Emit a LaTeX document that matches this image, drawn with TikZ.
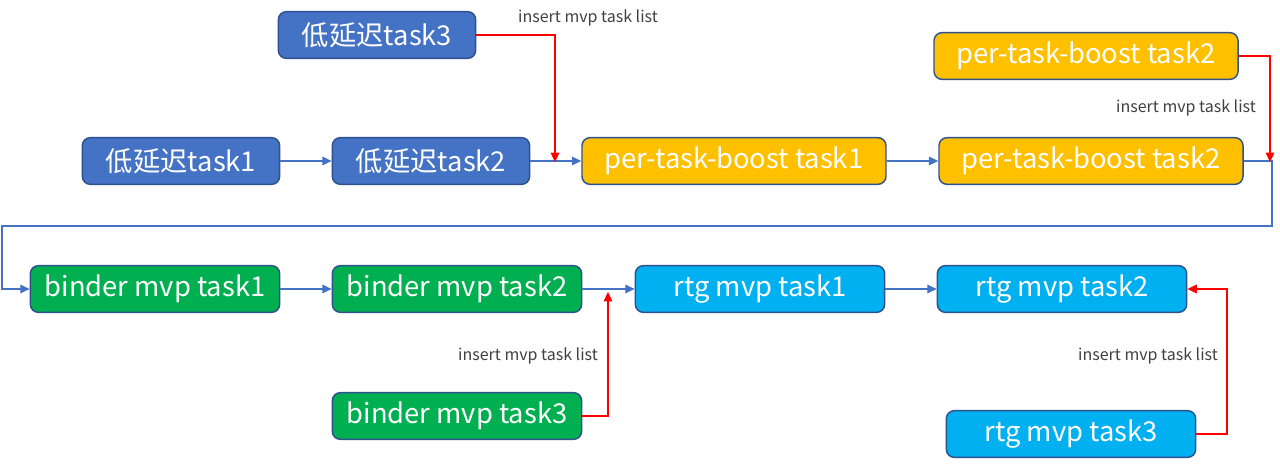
\documentclass[tikz,border=0pt]{standalone}
\usepackage{fontspec}
\setmainfont{Noto Sans CJK SC}
\usepackage{tikz}
\usetikzlibrary{arrows.meta,calc,positioning}
\definecolor{lowblue}{HTML}{4472C4}
\definecolor{boostyellow}{HTML}{FFC000}
\definecolor{bindergreen}{HTML}{00B050}
\definecolor{rtgblue}{HTML}{00B0F0}
\definecolor{myborder}{HTML}{2F528F}
\definecolor{labelgray}{HTML}{404040}
\tikzset{
    mybox/.style={draw=myborder,line width=1.1pt,rounded corners=6pt,text=white,
      minimum height=35pt,inner sep=0pt,font=\fontsize{20.5}{22}\selectfont},
    lowbox/.style={mybox,fill=lowblue,minimum width=148pt},
    boostbox/.style={mybox,fill=boostyellow,minimum width=228pt},
    binderbox/.style={mybox,fill=bindergreen,minimum width=187pt},
    rtgbox/.style={mybox,fill=rtgblue,minimum width=187pt},
    myflow/.style={draw=lowblue,line width=0.8pt,-{Triangle[length=7pt,width=6.5pt]}},
    myinsert/.style={draw=red,line width=0.8pt,-{Triangle[length=7pt,width=6.5pt]}},
    mylabel/.style={text=labelgray,font=\fontsize{12}{13}\selectfont}
}
\begin{document}
\begin{tikzpicture}[x=0.75pt,y=-0.75pt]
  \useasboundingbox (0,0) rectangle (1280,470);
  \node[lowbox] (low1) at (181,161) {低延迟task1};
  \node[lowbox] (low2) at (431,161) {低延迟task2};
  \node[lowbox] (low3) at (377,35) {低延迟task3};
  \node[boostbox] (boost1) at (734,161) {per-task-boost task1};
  \node[boostbox] (boost2) at (1091,161) {per-task-boost task2};
  \node[boostbox] (boost3) at (1086,56) {per-task-boost task2};
  \node[binderbox] (binder1) at (155,289) {binder mvp task1};
  \node[binderbox] (binder2) at (457,289) {binder mvp task2};
  \node[binderbox] (binder3) at (457,416) {binder mvp task3};
  \node[rtgbox] (rtg1) at (760,289) {rtg mvp task1};
  \node[rtgbox] (rtg2) at (1062,289) {rtg mvp task2};
  \node[rtgbox] (rtg3) at (1071,434) {rtg mvp task3};
  \coordinate (in1) at (555,162);
  \coordinate (in2) at (1270,162);
  \coordinate (in3) at (608,292);
  \coordinate (in4) at (1227,289);
  \coordinate (wrapR) at (1272,226);
  \coordinate (wrapL) at (2,226);
  \draw[myflow] (low1) -- (low2);
  \draw[myflow] (low2) -- (boost1);
  \draw[myflow] (boost1) -- (boost2);
  \draw[myflow] (boost2.east) -| (wrapR) -- (wrapL) |- (binder1.west);
  \draw[myflow] (binder1) -- (binder2);
  \draw[myflow] (binder2) -- (rtg1);
  \draw[myflow] (rtg1) -- (rtg2);
  \draw[myinsert] (low3.east) -| (in1);
  \draw[myinsert] (boost3.east) -| (in2);
  \draw[myinsert] (binder3.east) -| (in3);
  \draw[myinsert] (rtg3.east) -| (in4) -- (rtg2.east);
  \node[mylabel] (lab1) at (588,18) {insert mvp task list};
  \node[mylabel] (lab2) at (1186,108) {insert mvp task list};
  \node[mylabel] (lab3) at (528,356) {insert mvp task list};
  \node[mylabel] (lab4) at (1148,356) {insert mvp task list};
\end{tikzpicture}
\end{document}
